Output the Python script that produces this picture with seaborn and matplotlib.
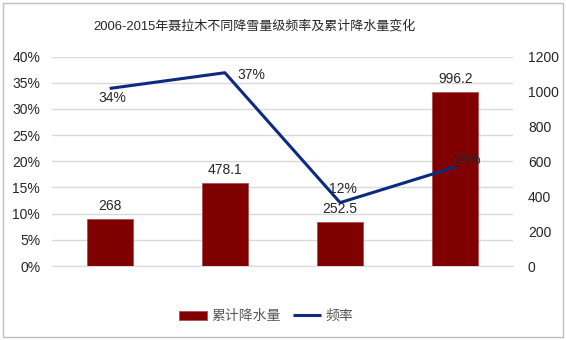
import matplotlib
matplotlib.use("Agg")
import matplotlib.pyplot as plt
import seaborn as sns
import pandas as pd
from matplotlib.patches import Rectangle
from matplotlib.ticker import FuncFormatter, MultipleLocator

categories = ["7.5-14.9mm", "10.0-19.9mm", "20.0-29.9mm", "》30.0mm"]
precip = [268, 478.1, 252.5, 996.2]
freq = [0.339, 0.369, 0.121, 0.189]
freq_labels = ["34%", "37%", "12%", "19%"]
precip_labels = ["268", "478.1", "252.5", "996.2"]
title = "2006-2015年聂拉木不同降雪量级频率及累计降水量变化"
bar_name = "累计降水量"
line_name = "频率"

sns.set_style("white")
plt.rcParams["font.family"] = ["Liberation Sans", "Noto Sans CJK SC", "DejaVu Sans"]
plt.rcParams["font.size"] = 10

bar_color = "#800000"
line_color = "#0B2A80"
text_color = "#262626"
grid_color = "#D9D9D9"

df = pd.DataFrame({"cat": categories, "precip": precip, "freq": freq})

fig = plt.figure(figsize=(5.66, 3.40), dpi=100)
ax = fig.add_axes([52 / 566, 1 - 266 / 340, (513 - 52) / 566, (266 - 56.5) / 340])
ax2 = ax.twinx()
ax3 = ax.twinx()

# bars on right axis
sns.barplot(data=df, x="cat", y="precip", ax=ax2, color=bar_color, width=0.4,
            saturation=1, edgecolor="#B05050", linewidth=0.6, errorbar=None)
ax2.set_ylim(0, 1200)
ax2.yaxis.set_major_locator(MultipleLocator(200))
for i, p in enumerate(ax2.patches):
    ax2.annotate(precip_labels[i], (p.get_x() + p.get_width() / 2, p.get_height()),
                 xytext=(0, 6), textcoords="offset pixels", ha="center", va="bottom",
                 fontsize=10, color=text_color)

# line on overlay axis with percent scale
sns.pointplot(data=df, x="cat", y="freq", ax=ax3, color=line_color, marker="",
              linewidth=2.2, errorbar=None)
for ln in ax3.lines:
    ln.set_solid_capstyle("butt")
ax3.set_ylim(0, 0.40)
ax3.set_yticks([])
ax3.set_ylabel("")
for s in ax3.spines.values():
    s.set_visible(False)

offsets = [(3, -10, "center"), (13, -2, "left"), (3, 14, "center"), (-2, 7, "left")]
for i, (dx, dy, ha) in enumerate(offsets):
    ax3.annotate(freq_labels[i], (i, freq[i]), xytext=(dx, dy), textcoords="offset pixels",
                 ha=ha, va="center", fontsize=10, color=text_color)

# left axis: percent ticks and grid
ax.set_ylim(0, 0.40)
ax.yaxis.set_major_locator(MultipleLocator(0.05))
ax.yaxis.set_major_formatter(FuncFormatter(lambda v, _: f"{v*100:.0f}%"))
ax.grid(axis="y", color=grid_color, linewidth=1)
ax.set_axisbelow(True)
ax.set_xlim(ax2.get_xlim())

for a in (ax, ax2):
    for s in a.spines.values():
        s.set_visible(False)
    a.set_xlabel("")
    a.set_ylabel("")
ax.spines["bottom"].set_visible(True)
ax.spines["bottom"].set_color(grid_color)

ax.tick_params(axis="y", length=0, pad=8.5, labelsize=10, labelcolor=text_color)
ax2.tick_params(axis="y", length=0, pad=10.8, labelsize=10, labelcolor=text_color)
ax2.tick_params(axis="x", length=0, pad=10, labelsize=10, labelcolor=text_color)
ax.tick_params(axis="x", length=0, labelbottom=False)
ax3.tick_params(axis="x", length=0, labelbottom=False)
ax2.set_xticks(range(len(categories)))
ax2.set_xticklabels(categories)
ax2.tick_params(axis="x", labelbottom=True)

fig.text(254 / 566, 1 - 26 / 340, title, ha="center", va="center", fontsize=9.4,
         color=text_color)

handles = [ax2.patches[0], ax3.lines[0]]
leg = fig.legend(handles, [bar_name, line_name], loc="center", bbox_to_anchor=(266 / 566, 1 - 316 / 340),
                 ncol=2, frameon=False, fontsize=10, handlelength=2.0, handleheight=0.6,
                 columnspacing=0.9, handletextpad=0.3)
for t in leg.get_texts():
    t.set_color("#595959")

fig.patches.append(Rectangle((3 / 566, 3 / 340), 560 / 566, 334 / 340, transform=fig.transFigure,
                             fill=False, edgecolor="#BFBFBF", linewidth=1))

fig.savefig("out.png", dpi=100)
